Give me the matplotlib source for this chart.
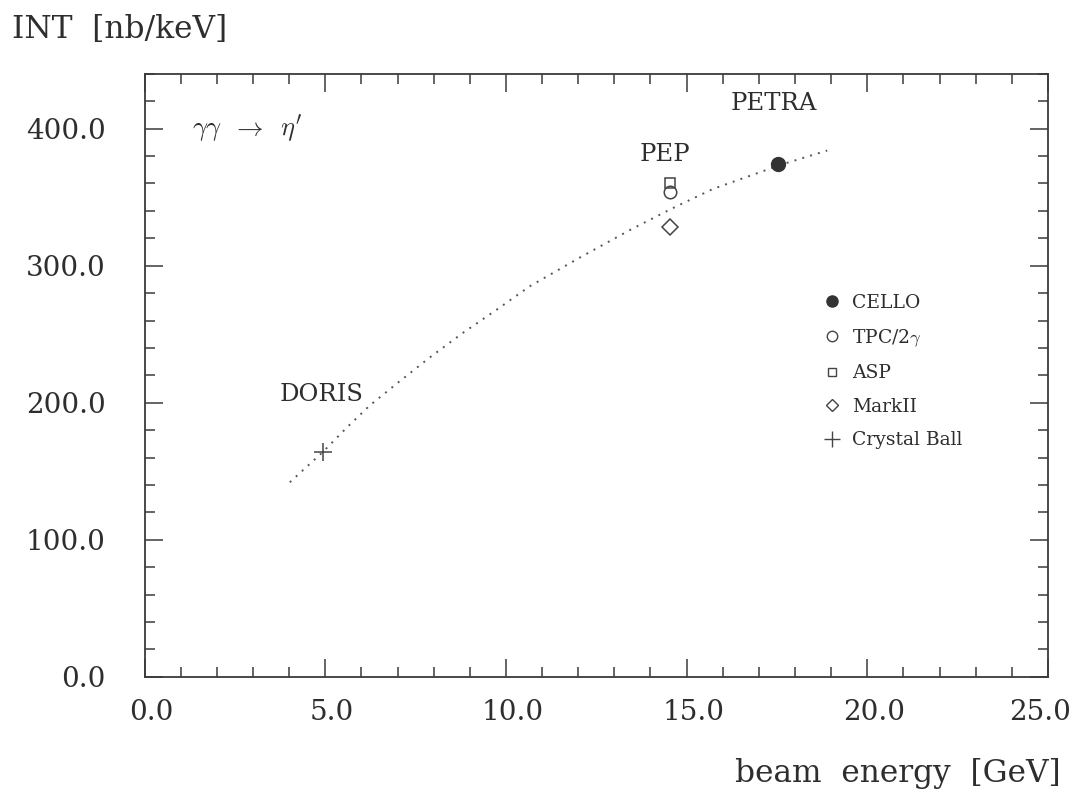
import matplotlib
matplotlib.use("Agg")
import matplotlib.pyplot as plt
from matplotlib.lines import Line2D
from matplotlib.ticker import MultipleLocator, FormatStrFormatter
from matplotlib.transforms import ScaledTranslation

# ---- data ----
curve_x = [4.02, 4.93, 5.60, 6.23, 6.98, 7.89, 8.81, 9.75, 10.66, 12.05, 13.43, 14.54, 15.73, 17.12, 17.53, 18.89]
curve_y = [142.0, 164.0, 182.0, 198.0, 214.0, 233.0, 251.0, 268.0, 285.0, 306.0, 326.0, 341.0, 356.0, 369.0, 373.0, 384.0]

exp_names = ["CELLO", r"TPC/2$\gamma$", "ASP", "MarkII", "Crystal Ball"]
exp_x = [17.53, 14.55, 14.55, 14.55, 4.95]
exp_y = [374.4, 354.0, 360.5, 328.3, 164.0]

site_names = ["PETRA", "PEP", "DORIS"]
site_x = [17.4, 14.4, 4.9]
site_y = [418.0, 381.0, 206.0]

xticks = [0, 5, 10, 15, 20, 25]
yticks = [0, 100, 200, 300, 400]

# ---- styles ----
plt.rcParams['font.family'] = ['DejaVu Serif']
plt.rcParams['mathtext.fontset'] = 'cm'
TXT = "#2e2e2e"
AX = "#3a3a3a"

fig = plt.figure(figsize=(10.71, 8.02), dpi=100)
ax = fig.add_axes([0.135, 0.156, 0.8435, 0.752])

ax.plot(curve_x, curve_y, linestyle=(0, (1, 3.2)), color="#555555", lw=1.4, zorder=2)

styles = [
    dict(marker="o", mfc="#333333", mec="#333333", ms=10),
    dict(marker="o", mfc="none", mec="#444444", ms=9, mew=1.1),
    dict(marker="s", mfc="none", mec="#444444", ms=7, mew=1.1),
    dict(marker="D", mfc="none", mec="#444444", ms=8, mew=1.1),
    dict(marker="+", color="#444444", ms=13, mew=1.1),
]
for x, y, st in zip(exp_x, exp_y, styles):
    ax.plot([x], [y], linestyle="none", zorder=3, **st)

for name, x, y in zip(site_names, site_x, site_y):
    ax.text(x, y, name, ha="center", va="center", fontsize=17.5, color=TXT)

ax.text(1.3, 400, r"$\gamma\gamma\;\;\rightarrow\;\;\eta'$", ha="left", va="center",
        fontsize=19, color=TXT)

# legend
leg_styles = [
    dict(marker="o", mfc="#333333", mec="#333333", ms=8),
    dict(marker="o", mfc="none", mec="#444444", ms=7.5, mew=1.0),
    dict(marker="s", mfc="none", mec="#444444", ms=6, mew=1.0),
    dict(marker="D", mfc="none", mec="#444444", ms=6, mew=1.0),
    dict(marker="+", color="#444444", ms=11, mew=1.0),
]
handles = [Line2D([], [], linestyle="none", **st) for st in leg_styles]
leg = ax.legend(handles, exp_names, loc="upper left", bbox_to_anchor=(0.742, 0.648),
                frameon=False, fontsize=13.5, handlelength=1.0, handletextpad=0.6,
                labelspacing=0.83, borderaxespad=0)
for t in leg.get_texts():
    t.set_color(TXT)

ax.set_xlim(0, 25)
ax.set_ylim(0, 440)
ax.set_xticks(xticks)
ax.set_yticks(yticks)
ax.xaxis.set_minor_locator(MultipleLocator(1))
ax.yaxis.set_minor_locator(MultipleLocator(20))
ax.xaxis.set_major_formatter(FormatStrFormatter("%.1f"))
ax.yaxis.set_major_formatter(FormatStrFormatter("%.1f"))

ax.tick_params(which="both", direction="in", top=True, right=True, colors=AX,
               labelcolor=TXT, labelsize=20, width=1.1)
ax.tick_params(which="major", length=13)
ax.tick_params(which="minor", length=7)
ax.tick_params(axis="x", which="major", pad=16)
ax.tick_params(axis="y", which="major", pad=28)
for s in ax.spines.values():
    s.set_color(AX)
    s.set_linewidth(1.3)

# shift x tick labels slightly right like the reference, last one a bit left to stay inside
fig.canvas.draw()
xlabels = ax.get_xticklabels()
for i, lab in enumerate(xlabels):
    dx = 5 / 72 if i < len(xlabels) - 1 else -6 / 72
    lab.set_transform(lab.get_transform() + ScaledTranslation(dx, 0, fig.dpi_scale_trans))

fig.text(0.011, 0.963, "INT  [nb/keV]", ha="left", va="center", fontsize=22.5, color=TXT)
fig.text(0.99, 0.035, "beam  energy  [GeV]", ha="right", va="center", fontsize=22.5, color=TXT)

fig.savefig("out.png", dpi=100, facecolor="white")
